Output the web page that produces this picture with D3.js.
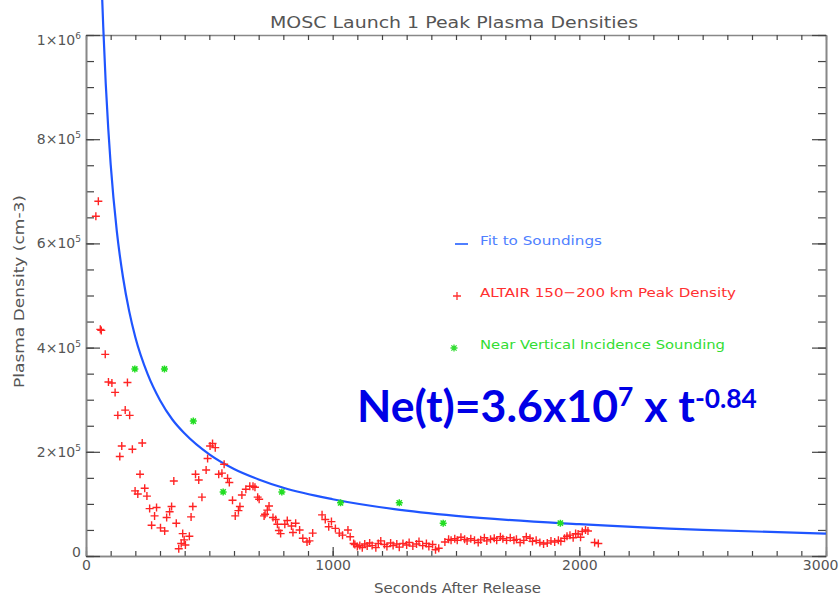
<!DOCTYPE html>
<html>
<head>
<meta charset="utf-8">
<script src="https://cdn.jsdelivr.net/npm/d3@7"></script>
<style>
  body { margin: 0; background: #fff; }
  text { font-family: "DejaVu Sans", sans-serif; }
</style>
</head>
<body>
<div id="chart"></div>
<script>
// Fit to soundings (Ne(t)=3.6e7 t^-0.84)
const fitT  = [64, 70, 80, 90, 100, 125, 150, 175, 200, 250, 300, 350, 400, 500, 600, 700, 800, 1000, 1250, 1500, 2000, 2500, 3000];
const fitNe = [1.09e6, 1.015e6, 9.07e5, 8.22e5, 7.52e5, 6.23e5, 5.35e5, 4.70e5, 4.20e5, 3.49e5, 2.99e5, 2.62e5, 2.35e5,
               1.95e5, 1.67e5, 1.47e5, 1.31e5, 1.09e5, 9.0e4, 7.7e4, 6.1e4, 5.0e4, 4.3e4];

// Near vertical incidence soundings
const soundT  = [198, 318, 435, 556, 794, 1032, 1270, 1448, 1923];
const soundNe = [3.59e5, 3.59e5, 2.59e5, 1.23e5, 1.23e5, 1.02e5, 1.02e5, 6.3e4, 6.3e4];

// ALTAIR 150-200 km peak density
const altairT = [40, 50, 58, 62, 78, 91, 105, 118, 129, 137, 145, 159, 168, 177, 188, 199, 210, 219, 228, 238,
  247, 258, 266, 278, 286, 302, 319, 327, 339, 347, 356, 366, 376, 386, 392, 398, 403, 419, 426, 433,
  444, 457, 470, 487, 493, 503, 513, 524, 538, 551, 560, 574, 581, 594, 605, 618, 624, 632, 648, 664,
  677, 685, 696, 702, 722, 726, 735, 742, 758, 769, 776, 782, 789, 806, 816, 833, 839, 850, 866, 879,
  896, 906, 919, 957, 970, 984, 995, 1011, 1027, 1040, 1062, 1071, 1085,
  1090, 1100, 1110, 1120, 1130, 1140, 1150, 1160, 1175, 1185, 1195, 1210, 1220, 1235, 1245, 1260, 1270,
  1285, 1300, 1310, 1325, 1340, 1350, 1365, 1380, 1390, 1405, 1417, 1430, 1455, 1470, 1480, 1495, 1505,
  1520, 1535, 1545, 1560, 1575, 1590, 1600, 1615, 1625, 1640, 1655, 1665, 1680, 1690, 1705, 1720, 1735,
  1745, 1760, 1775, 1785, 1800, 1810, 1825, 1840, 1855, 1870, 1885, 1900, 1915, 1925, 1940, 1950, 1962,
  1975, 1985, 1995, 2005, 2012, 2025, 2035, 2062, 2077];
const altairNe = [6.52e5, 6.81e5, 4.35e5, 4.33e5, 3.87e5, 3.34e5, 3.32e5, 3.14e5, 2.70e5, 1.91e5, 2.11e5, 2.80e5, 3.33e5, 2.70e5, 2.05e5, 1.25e5, 1.19e5, 1.57e5, 2.17e5, 1.30e5,
  1.15e5, 9.1e4, 5.9e4, 7.7e4, 9.3e4, 5.4e4, 4.8e4, 7.4e4, 8.5e4, 9.5e4, 1.44e5, 6.3e4, 1.4e4, 2.4e4, 4.3e4, 3.1e4, 2.1e4, 3.8e4, 7.5e4, 9.5e4,
  1.57e5, 1.46e5, 1.13e5, 1.65e5, 1.87e5, 2.11e5, 2.16e5, 2.08e5, 1.57e5, 1.59e5, 1.76e5, 1.49e5, 1.41e5, 1.07e5, 7.7e4, 8.7e4, 9.5e4, 1.17e5, 1.28e5, 1.34e5,
  1.34e5, 1.32e5, 1.13e5, 1.09e5, 7.7e4, 8.0e4, 8.8e4, 9.6e4, 7.4e4, 7.0e4, 6.1e4, 4.9e4, 4.3e4, 6.1e4, 6.8e4, 5.75e4, 4.5e4, 6.3e4, 5.0e4, 3.4e4,
  2.7e4, 2.9e4, 4.4e4, 7.9e4, 7.0e4, 5.6e4, 6.6e4, 5.3e4, 4.4e4, 4.0e4, 5.0e4, 3.7e4, 2.4e4,
  2.2e4, 1.8e4, 2.0e4, 1.6e4, 2.3e4, 1.9e4, 2.5e4, 2.0e4, 1.6e4, 2.4e4, 2.9e4, 2.2e4, 1.8e4, 2.5e4, 2.0e4, 2.3e4, 1.7e4,
  2.4e4, 2.1e4, 2.6e4, 1.9e4, 2.3e4, 2.8e4, 2.0e4, 2.4e4, 1.8e4, 2.2e4, 1.2e4, 1.5e4, 2.7e4, 3.2e4, 3.0e4, 3.3e4, 3.0e4,
  3.6e4, 3.2e4, 2.9e4, 3.3e4, 3.0e4, 2.6e4, 3.1e4, 3.5e4, 2.9e4, 3.2e4, 3.4e4, 3.0e4, 3.7e4, 3.3e4, 3.0e4, 3.5e4, 3.0e4,
  3.2e4, 2.6e4, 3.0e4, 3.7e4, 3.4e4, 2.8e4, 3.0e4, 2.6e4, 2.3e4, 2.5e4, 2.9e4, 2.7e4, 3.0e4, 2.8e4, 3.4e4, 3.8e4, 4.0e4,
  3.5e4, 4.3e4, 4.2e4, 3.6e4, 4.7e4, 5.0e4, 4.8e4, 2.6e4, 2.4e4];

const xTicks = [0, 1000, 2000, 3000];
const yTicks = [0, 2e5, 4e5, 6e5, 8e5, 1e6];
const yTickLabels = [["0", ""], ["2×10", "5"], ["4×10", "5"], ["6×10", "5"], ["8×10", "5"], ["1×10", "6"]];
const legendLabels = ["Fit to Soundings", "ALTAIR 150\u2212200 km Peak Density", "Near Vertical Incidence Sounding"];

const W = 839, H = 595;
const pLeft = 86, pRight = 826, pTop = 35, pBottom = 556;

const svg = d3.select("#chart").append("svg")
    .attr("width", W)
    .attr("height", H);

const x = d3.scaleLinear().domain([0, 3000]).range([pLeft, pRight]);
const y = d3.scaleLinear().domain([0, 1e6]).range([pBottom, pTop]);

const minorX = d3.range(0, 3001, 100);
const minorY = d3.range(0, 1e6 + 1, 5e4);

function styleAxis(g) {
    g.select(".domain").attr("stroke", "#888").attr("stroke-width", 1.6);
    g.selectAll(".tick line").attr("stroke", "#444").attr("stroke-width", 1.2);
}

// bottom axis
svg.append("g").attr("transform", `translate(0,${pBottom})`)
    .call(d3.axisBottom(x).tickValues(minorX).tickSize(-5).tickSizeOuter(0).tickFormat(""))
    .call(styleAxis);
svg.append("g").attr("transform", `translate(0,${pBottom})`)
    .call(d3.axisBottom(x).tickValues(xTicks).tickSize(-9).tickSizeOuter(0).tickPadding(4).tickFormat(d3.format("d")))
    .call(styleAxis)
    .call(g => g.selectAll(".tick text")
        .attr("fill", "#555").attr("font-size", 14).attr("font-family", "DejaVu Sans"))
    // last label sits against the page edge, keep it inside
    .call(g => g.selectAll(".tick text").filter(d => d === 3000)
        .attr("text-anchor", "end").attr("x", W - 1 - pRight));

// top axis
svg.append("g").attr("transform", `translate(0,${pTop})`)
    .call(d3.axisTop(x).tickValues(minorX).tickSize(-5).tickSizeOuter(0).tickFormat(""))
    .call(styleAxis);

// left axis
svg.append("g").attr("transform", `translate(${pLeft},0)`)
    .call(d3.axisLeft(y).tickValues(minorY).tickSize(-8).tickSizeOuter(0).tickFormat(""))
    .call(styleAxis);
svg.append("g").attr("transform", `translate(${pLeft},0)`)
    .call(d3.axisLeft(y).tickValues(yTicks).tickSize(-14).tickSizeOuter(0).tickFormat(""))
    .call(styleAxis);

// right axis
svg.append("g").attr("transform", `translate(${pRight},0)`)
    .call(d3.axisRight(y).tickValues(minorY).tickSize(-8).tickSizeOuter(0).tickFormat(""))
    .call(styleAxis);
svg.append("g").attr("transform", `translate(${pRight},0)`)
    .call(d3.axisRight(y).tickValues(yTicks).tickSize(-14).tickSizeOuter(0).tickFormat(""))
    .call(styleAxis);

// y tick labels with superscript exponents
yTicks.forEach((v, i) => {
    const base = Math.max(pTop + 10, Math.min(pBottom + 1, y(v) + 5));
    const t = svg.append("text")
        .attr("x", pLeft - 5)
        .attr("y", base)
        .attr("text-anchor", "end")
        .attr("fill", "#555")
        .attr("font-size", 14);
    t.append("tspan").text(yTickLabels[i][0]);
    if (yTickLabels[i][1]) {
        t.append("tspan").attr("dy", -6).attr("font-size", 9).text(yTickLabels[i][1]);
    }
});

// titles
svg.append("text")
    .attr("x", 270).attr("y", 28)
    .attr("fill", "#555").attr("font-size", 16)
    .attr("textLength", 368).attr("lengthAdjust", "spacingAndGlyphs")
    .text("MOSC Launch 1 Peak Plasma Densities");

svg.append("text")
    .attr("x", 374).attr("y", 593)
    .attr("fill", "#555").attr("font-size", 14)
    .attr("textLength", 167).attr("lengthAdjust", "spacingAndGlyphs")
    .text("Seconds After Release");

svg.append("text")
    .attr("transform", "translate(24,388) rotate(-90)")
    .attr("fill", "#555").attr("font-size", 14)
    .attr("textLength", 193).attr("lengthAdjust", "spacingAndGlyphs")
    .text("Plasma Density (cm-3)");

// fit curve
const line = d3.line()
    .x((d, i) => x(fitT[i]))
    .y(d => y(d))
    .curve(d3.curveMonotoneX);

svg.append("path")
    .attr("d", line(fitNe))
    .attr("fill", "none")
    .attr("stroke", "#1f55ff")
    .attr("stroke-width", 2.2);

// ALTAIR crosses
const crossPath = "M-4,0H4M0,-4V4";
const starPath = "M-3.5,0H3.5M0,-3.5V3.5M-2.6,-2.6L2.6,2.6M-2.6,2.6L2.6,-2.6";

svg.append("g").selectAll("path")
    .data(altairNe)
    .join("path")
    .attr("transform", (d, i) => `translate(${x(altairT[i])},${y(d)})`)
    .attr("d", crossPath)
    .attr("stroke", "#ff2424")
    .attr("stroke-width", 1.4)
    .attr("fill", "none");

// soundings
svg.append("g").selectAll("path")
    .data(soundNe)
    .join("path")
    .attr("transform", (d, i) => `translate(${x(soundT[i])},${y(d)})`)
    .attr("d", starPath)
    .attr("stroke", "#22dd22")
    .attr("stroke-width", 1.5)
    .attr("fill", "none");

// legend
const legColors = ["#4f7fff", "#ff3030", "#33dd33"];
const legY = [245, 297, 349];
const legW = [122, 256, 245];

svg.append("path").attr("d", `M455,${legY[0] - 1}H468`).attr("stroke", legColors[0]).attr("stroke-width", 2);
svg.append("path").attr("transform", `translate(457,${legY[1] - 1})`).attr("d", crossPath)
    .attr("stroke", legColors[1]).attr("stroke-width", 1.3).attr("fill", "none");
svg.append("path").attr("transform", `translate(454,${legY[2] - 1})`).attr("d", starPath)
    .attr("stroke", legColors[2]).attr("stroke-width", 1.3).attr("fill", "none");

legendLabels.forEach((s, i) => {
    svg.append("text")
        .attr("x", 480).attr("y", legY[i])
        .attr("fill", legColors[i]).attr("font-size", 13)
        .attr("textLength", legW[i]).attr("lengthAdjust", "spacingAndGlyphs")
        .text(s);
});

// equation annotation
const eq = svg.append("text")
    .attr("x", 357).attr("y", 422)
    .attr("fill", "#0000e6")
    .style("font-family", "Lato, 'Open Sans', sans-serif")
    .attr("font-weight", 700)
    .attr("font-size", 44);
eq.append("tspan").text("Ne(t)=3.6x10");
eq.append("tspan").attr("dy", -16).attr("font-size", 26).text("7");
eq.append("tspan").attr("dy", 16).text(" x t");
eq.append("tspan").attr("dy", -14).attr("font-size", 26).text("-0.84");

const w = eq.node().getBBox().width;
const k = 400 / w;
eq.attr("font-size", 44 * k);
eq.selectAll("tspan").each(function () {
    const el = d3.select(this);
    const fs = el.attr("font-size");
    if (fs) el.attr("font-size", fs * k);
    const dy = el.attr("dy");
    if (dy) el.attr("dy", dy * k);
});
</script>
</body>
</html>
